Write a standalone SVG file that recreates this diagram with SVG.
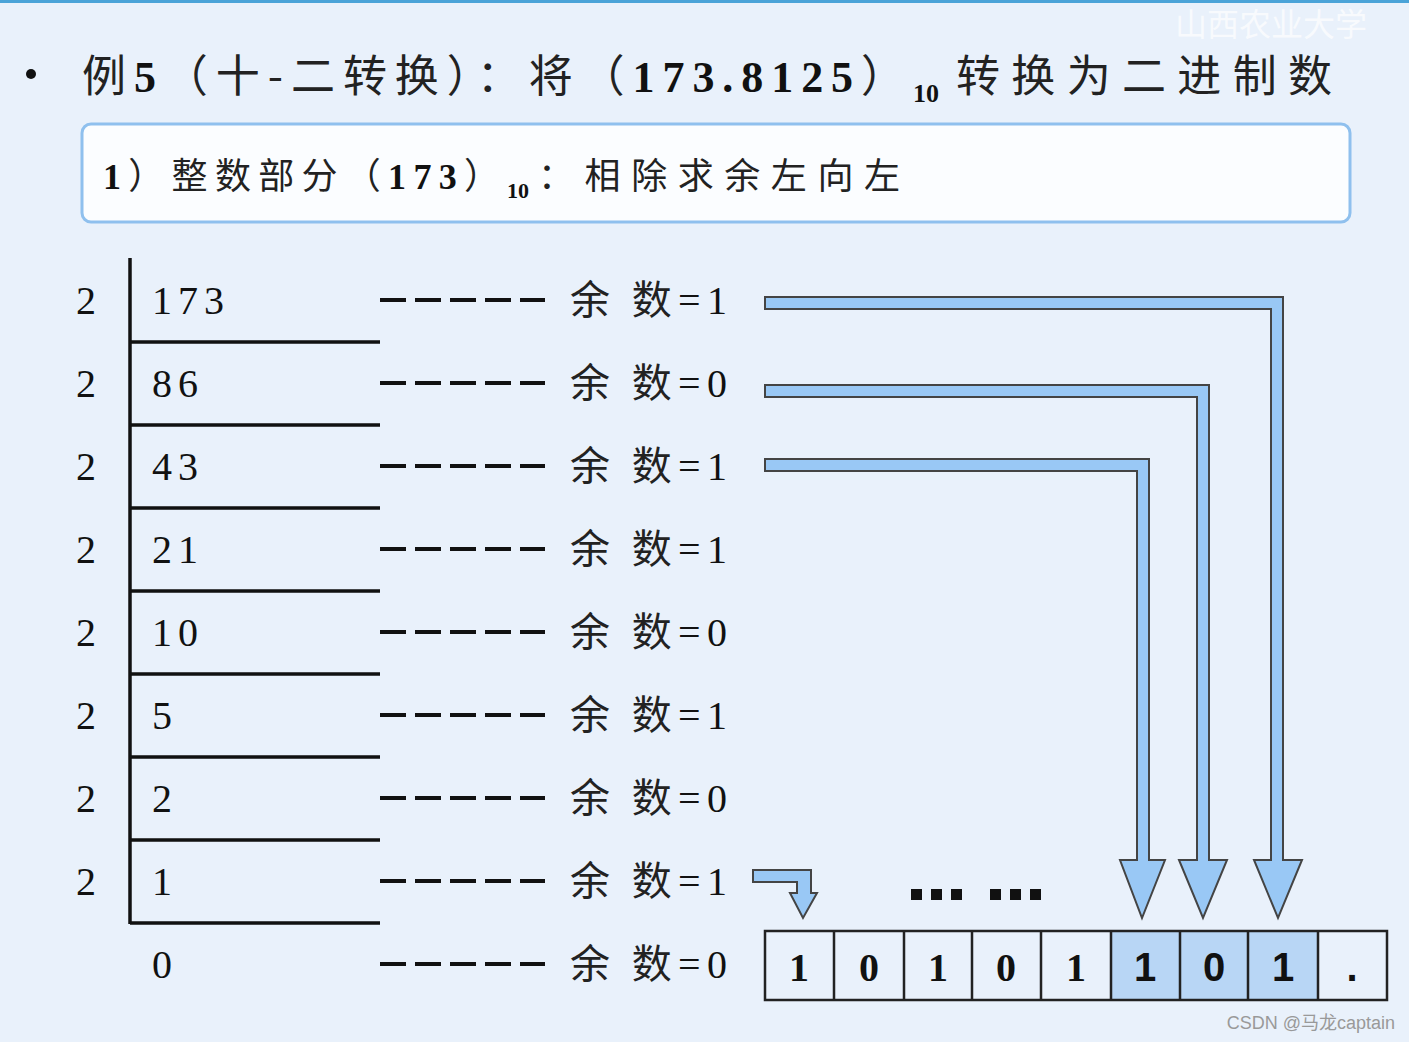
<svg xmlns="http://www.w3.org/2000/svg" width="1409" height="1042" viewBox="0 0 1409 1042">
<style>
.t{font-family:"Liberation Serif","Noto Sans CJK SC",serif;fill:#111}
.cj{font-family:"Noto Sans CJK SC",serif;fill:#222}
.ln{stroke:#111;stroke-width:3.5;fill:none}
.ds{stroke:#111;stroke-width:4;fill:none}
.ar{fill:#99c8f5;stroke:#444;stroke-width:2;stroke-linejoin:miter}
.cell{fill:none;stroke:#222;stroke-width:2.5}
</style>
<defs>
<path id="dash" d="M380 0H406M415 0H441M450 0H476M485 0H511M520 0H545"/>
</defs>
<rect width="1409" height="1042" fill="#e9f1fb"/>
<rect width="1409" height="3" fill="#4aa3d8"/>
<text x="1175" y="36" font-size="32" font-family="Noto Sans CJK SC,sans-serif" fill="#ffffff" opacity="0.7">山西农业大学</text>
<g id="title">
<circle cx="31" cy="74" r="5" fill="#111"/>
<text x="82" y="92" font-size="44" class="t" font-weight="bold" textLength="823" lengthAdjust="spacing"><tspan class="cj" font-weight="normal">例</tspan>5<tspan class="cj" font-weight="normal">（十-二转换）：将（</tspan>173.8125<tspan class="cj" font-weight="normal">）</tspan></text>
<text x="913" y="102" font-size="26" class="t" font-weight="bold">10</text>
<text x="956" y="92" font-size="44" class="cj" textLength="376" lengthAdjust="spacing">转换为二进制数</text>
</g>
<g id="header">
<rect x="82" y="124" width="1268" height="98" rx="9" fill="#fbfdff" stroke="#8fc0ee" stroke-width="3"/>
<text x="103" y="189" font-size="36" class="t" font-weight="bold" textLength="397" lengthAdjust="spacing">1<tspan class="cj" font-weight="normal">）整数部分（</tspan>173<tspan class="cj" font-weight="normal">）</tspan></text>
<text x="507" y="198" font-size="22" class="t" font-weight="bold">10</text>
<text x="538" y="189" font-size="36" class="cj" textLength="362" lengthAdjust="spacing">：相除求余左向左</text>
</g>
<g id="division">
<line class="ln" x1="130" y1="258" x2="130" y2="924"/>
<path class="ln" d="M130 342H380M130 425H380M130 508H380M130 591H380M130 674H380M130 757H380M130 840H380M130 923H380"/>
<g class="t" font-size="40">
<text x="76" y="314">2</text><text x="76" y="397">2</text><text x="76" y="480">2</text><text x="76" y="563">2</text>
<text x="76" y="646">2</text><text x="76" y="729">2</text><text x="76" y="812">2</text><text x="76" y="895">2</text>
<text x="152" y="314" letter-spacing="6">173</text><text x="152" y="397" letter-spacing="6">86</text>
<text x="152" y="480" letter-spacing="6">43</text><text x="152" y="563" letter-spacing="6">21</text>
<text x="152" y="646" letter-spacing="6">10</text><text x="152" y="729">5</text>
<text x="152" y="812">2</text><text x="152" y="895">1</text><text x="152" y="978">0</text>
</g>
</g>
<g id="remainders">
<g class="ds">
<use href="#dash" y="300"/><use href="#dash" y="383"/><use href="#dash" y="466"/><use href="#dash" y="549"/><use href="#dash" y="632"/>
<use href="#dash" y="715"/><use href="#dash" y="798"/><use href="#dash" y="881"/><use href="#dash" y="964"/>
</g>
<g font-size="40">
<text x="570" y="314" class="cj" textLength="157" lengthAdjust="spacing">余 数<tspan class="t">=1</tspan></text>
<text x="570" y="397" class="cj" textLength="157" lengthAdjust="spacing">余 数<tspan class="t">=0</tspan></text>
<text x="570" y="480" class="cj" textLength="157" lengthAdjust="spacing">余 数<tspan class="t">=1</tspan></text>
<text x="570" y="563" class="cj" textLength="157" lengthAdjust="spacing">余 数<tspan class="t">=1</tspan></text>
<text x="570" y="646" class="cj" textLength="157" lengthAdjust="spacing">余 数<tspan class="t">=0</tspan></text>
<text x="570" y="729" class="cj" textLength="157" lengthAdjust="spacing">余 数<tspan class="t">=1</tspan></text>
<text x="570" y="812" class="cj" textLength="157" lengthAdjust="spacing">余 数<tspan class="t">=0</tspan></text>
<text x="570" y="895" class="cj" textLength="157" lengthAdjust="spacing">余 数<tspan class="t">=1</tspan></text>
<text x="570" y="978" class="cj" textLength="157" lengthAdjust="spacing">余 数<tspan class="t">=0</tspan></text>
</g>
</g>
<g id="connectors">
<path class="ar" d="M765 297H1283V860H1302L1278 918L1254 860H1271V309H765Z"/>
<path class="ar" d="M765 385H1209V860H1227L1203 918L1179 860H1197V397H765Z"/>
<path class="ar" d="M765 459H1149V860H1165L1142 918L1120 860H1137V471H765Z"/>
<path class="ar" d="M753 870H811V893H817L803 918L790 893H797V882H753Z"/>
</g>
<g id="dots" fill="#111">
<rect x="911" y="889" width="11" height="11"/><rect x="931" y="889" width="11" height="11"/><rect x="951" y="889" width="11" height="11"/>
<rect x="990" y="889" width="11" height="11"/><rect x="1010" y="889" width="11" height="11"/><rect x="1030" y="889" width="11" height="11"/>
</g>
<g id="result">
<rect x="1111" y="931" width="207" height="69" fill="#b8d6f5"/>
<rect class="cell" x="765" y="931" width="622" height="69"/>
<path class="cell" d="M834 931V1000M904 931V1000M972 931V1000M1041 931V1000M1111 931V1000M1180 931V1000M1248 931V1000M1318 931V1000"/>
<g class="t" font-size="40" font-weight="bold" text-anchor="middle">
<text x="799" y="981">1</text><text x="869" y="981">0</text><text x="938" y="981">1</text><text x="1006" y="981">0</text><text x="1076" y="981">1</text>
</g>
<g font-family="Liberation Sans,sans-serif" font-size="40" font-weight="bold" text-anchor="middle" fill="#111">
<text x="1145" y="981">1</text><text x="1214" y="981">0</text><text x="1283" y="981">1</text><text x="1352" y="981">.</text>
</g>
</g>
<text x="1395" y="1029" font-size="18" font-family="Liberation Sans,Noto Sans CJK SC,sans-serif" fill="#999" text-anchor="end">CSDN @马龙captain</text>
</svg>
